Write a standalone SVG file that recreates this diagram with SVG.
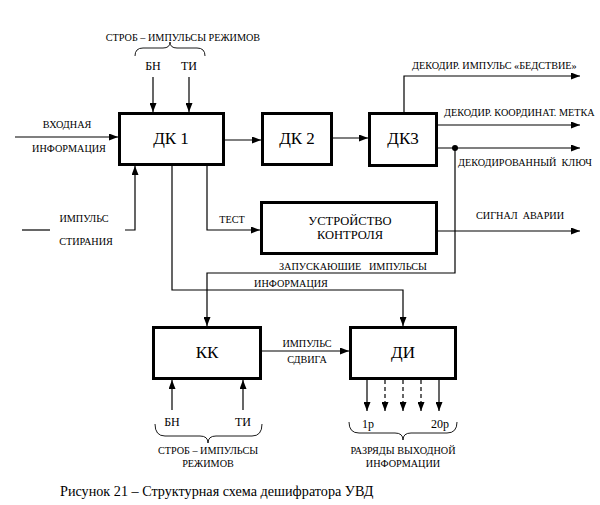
<svg xmlns="http://www.w3.org/2000/svg" width="600" height="505" viewBox="0 0 600 505">
<style>
.box{fill:#fff;stroke:#000;stroke-width:3}
.ln{fill:none;stroke:#000;stroke-width:1.2}
.dash{fill:none;stroke:#000;stroke-width:1.2;stroke-dasharray:4,3}
.br{fill:none;stroke:#000;stroke-width:0.9}
.big{font-size:17px;fill:#000;text-anchor:middle}
.mid{font-size:12.5px;fill:#000;text-anchor:middle}
.lb{font-size:10.2px;fill:#000;white-space:pre}
.lbc{font-size:10.2px;fill:#000;text-anchor:middle;white-space:pre}
.sm{font-size:12px;fill:#000;text-anchor:middle}
.cap{font-size:14.2px;fill:#000}
</style>
<defs>
<marker id="ah" markerUnits="userSpaceOnUse" markerWidth="9" markerHeight="7" refX="9" refY="3.5" viewBox="0 0 9 7" orient="auto">
<path d="M0,0 L9,3.5 L0,7 z" fill="#000"/>
</marker>
</defs>
<rect width="600" height="505" fill="#fff"/>

<g id="connectors">
<line class="ln" x1="153" y1="77" x2="153" y2="112" marker-end="url(#ah)"/>
<line class="ln" x1="189" y1="77" x2="189" y2="112" marker-end="url(#ah)"/>
<line class="ln" x1="15" y1="137" x2="118" y2="137" marker-end="url(#ah)"/>
<line class="ln" x1="22" y1="230" x2="50" y2="230"/>
<polyline class="ln" points="125,230 135,230 135,166" marker-end="url(#ah)"/>
<line class="ln" x1="225" y1="140" x2="261" y2="140" marker-end="url(#ah)"/>
<line class="ln" x1="333" y1="138" x2="368" y2="138" marker-end="url(#ah)"/>
<polyline class="ln" points="404,112 404,76 580,76" marker-end="url(#ah)"/>
<line class="ln" x1="438" y1="125" x2="580" y2="125" marker-end="url(#ah)"/>
<line class="ln" x1="438" y1="148" x2="580" y2="148" marker-end="url(#ah)"/>
<circle cx="455" cy="148" r="3" fill="#000"/>
<polyline class="ln" points="455,148 455,273 207,273 207,326" marker-end="url(#ah)"/>
<polyline class="ln" points="207,166 207,230 260,230" marker-end="url(#ah)"/>
<polyline class="ln" points="172,166 172,290 403,290 403,326" marker-end="url(#ah)"/>
<line class="ln" x1="438" y1="231" x2="580" y2="231" marker-end="url(#ah)"/>
<line class="ln" x1="262" y1="351" x2="349" y2="351" marker-end="url(#ah)"/>
<line class="ln" x1="172" y1="410" x2="172" y2="380" marker-end="url(#ah)"/>
<line class="ln" x1="243" y1="410" x2="243" y2="380" marker-end="url(#ah)"/>
<line class="ln" x1="367" y1="380" x2="367" y2="411" marker-end="url(#ah)"/>
<line class="dash" x1="385" y1="380" x2="385" y2="411" marker-end="url(#ah)"/>
<line class="dash" x1="403" y1="380" x2="403" y2="411" marker-end="url(#ah)"/>
<line class="dash" x1="421" y1="380" x2="421" y2="411" marker-end="url(#ah)"/>
<line class="ln" x1="439" y1="380" x2="439" y2="411" marker-end="url(#ah)"/>
<path class="br" d="M135,56 Q135,48 143,48 L163,48 Q170,48 170,42 Q170,48 177,48 L197,48 Q205,48 205,56"/>
<path class="br" d="M155,424 Q155,436 165,436 L200,436 Q208,436 208,443 Q208,436 216,436 L252,436 Q262,436 262,424"/>
<path class="br" d="M349,422 Q349,433 359,433 L395,433 Q403,433 403,440 Q403,433 411,433 L447,433 Q457,433 457,422"/>
</g>

<g id="dk1" font-family="Liberation Serif, serif">
<rect class="box" x="119.5" y="113.5" width="104" height="51"/>
<text class="big" x="171" y="144">ДК 1</text>
</g>
<g id="dk2" font-family="Liberation Serif, serif">
<rect class="box" x="262.5" y="113.5" width="69" height="51"/>
<text class="big" x="297" y="144">ДК 2</text>
</g>
<g id="dk3" font-family="Liberation Serif, serif">
<rect class="box" x="369.5" y="113.5" width="67" height="52"/>
<text class="big" x="403" y="144">ДК3</text>
</g>
<g id="control" font-family="Liberation Serif, serif">
<rect class="box" x="261.5" y="202.5" width="175" height="51"/>
<text class="mid" x="350" y="225">УСТРОЙСТВО</text>
<text class="mid" x="350" y="239">КОНТРОЛЯ</text>
</g>
<g id="kk" font-family="Liberation Serif, serif">
<rect class="box" x="153.5" y="327.5" width="107" height="51"/>
<text class="big" x="207" y="358">КК</text>
</g>
<g id="di" font-family="Liberation Serif, serif">
<rect class="box" x="350.5" y="327.5" width="105" height="51"/>
<text class="big" x="403" y="358">ДИ</text>
</g>

<g id="labels" font-family="Liberation Serif, serif">
<text class="lbc" x="183" y="41">СТРОБ – ИМПУЛЬСЫ РЕЖИМОВ</text>
<text class="sm" x="153" y="70">БН</text>
<text class="sm" x="189" y="70">ТИ</text>
<text class="lbc" x="67" y="128">ВХОДНАЯ</text>
<text class="lbc" x="69" y="152">ИНФОРМАЦИЯ</text>
<text class="lbc" x="84" y="222">ИМПУЛЬС</text>
<text class="lbc" x="86" y="245">СТИРАНИЯ</text>
<text class="lbc" x="232" y="223">ТЕСТ</text>
<text class="lb" x="412" y="69">ДЕКОДИР. ИМПУЛЬС «БЕДСТВИЕ»</text>
<text class="lb" x="444" y="116">ДЕКОДИР. КООРДИНАТ. МЕТКА</text>
<text class="lb" x="458" y="166">ДЕКОДИРОВАННЫЙ  КЛЮЧ</text>
<text class="lb" x="476" y="219">СИГНАЛ  АВАРИИ</text>
<text class="lbc" x="353" y="270">ЗАПУСКАЮШИЕ   ИМПУЛЬСЫ</text>
<text class="lbc" x="291" y="287">ИНФОРМАЦИЯ</text>
<text class="lbc" x="307" y="347">ИМПУЛЬС</text>
<text class="lbc" x="307" y="363">СДВИГА</text>
<text class="sm" x="172" y="426">БН</text>
<text class="sm" x="243" y="426">ТИ</text>
<text class="lbc" x="208" y="454">СТРОБ – ИМПУЛЬСЫ</text>
<text class="lbc" x="208" y="467">РЕЖИМОВ</text>
<text class="sm" x="368" y="428">1р</text>
<text class="sm" x="440" y="428">20р</text>
<text class="lbc" x="403" y="454">РАЗРЯДЫ ВЫХОДНОЙ</text>
<text class="lbc" x="403" y="467">ИНФОРМАЦИИ</text>
<text class="cap" x="60" y="496">Рисунок 21 – Структурная схема дешифратора УВД</text>
</g>
</svg>
